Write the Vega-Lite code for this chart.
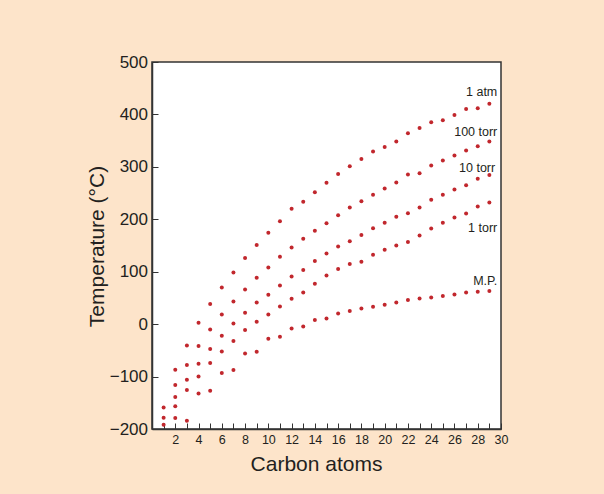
{
  "$schema": "https://vega.github.io/schema/vega-lite/v6.json",
  "width": 349,
  "height": 367,
  "autosize": {"type": "none"},
  "padding": {"left": 152, "top": 62, "right": 103, "bottom": 65},
  "background": "#FDE4CA",
  "config": {
    "font": "Liberation Sans",
    "view": {"fill": "white", "stroke": "#333333", "strokeWidth": 1.5},
    "axis": {
      "ticks": false,
      "grid": true,
      "gridColor": "#333333",
      "gridOpacity": 1,
      "gridWidth": 1,
      "domainColor": "#333333",
      "domainWidth": 1.5,
      "labelColor": "#231f20",
      "titleColor": "#231f20",
      "titleFontWeight": "normal",
      "labelFont": "Liberation Sans",
      "titleFont": "Liberation Sans"
    }
  },
  "datasets": {
    "pts": [
      {"c": 1, "t": -158.8, "s": "1 atm"}, {"c": 2, "t": -86.9, "s": "1 atm"}, {"c": 3, "t": -40.6, "s": "1 atm"}, {"c": 4, "t": 2.7, "s": "1 atm"}, {"c": 5, "t": 38.3, "s": "1 atm"}, {"c": 6, "t": 69.9, "s": "1 atm"}, {"c": 7, "t": 98.5, "s": "1 atm"}, {"c": 8, "t": 126.0, "s": "1 atm"}, {"c": 9, "t": 150.8, "s": "1 atm"}, {"c": 10, "t": 174.2, "s": "1 atm"}, {"c": 11, "t": 196.4, "s": "1 atm"}, {"c": 12, "t": 219.9, "s": "1 atm"}, {"c": 13, "t": 233.3, "s": "1 atm"}, {"c": 14, "t": 251.7, "s": "1 atm"}, {"c": 15, "t": 269.5, "s": "1 atm"}, {"c": 16, "t": 286.6, "s": "1 atm"}, {"c": 17, "t": 301.3, "s": "1 atm"}, {"c": 18, "t": 315.2, "s": "1 atm"}, {"c": 19, "t": 329.2, "s": "1 atm"}, {"c": 20, "t": 338.1, "s": "1 atm"}, {"c": 21, "t": 348.3, "s": "1 atm"}, {"c": 22, "t": 364.2, "s": "1 atm"}, {"c": 23, "t": 374.3, "s": "1 atm"}, {"c": 24, "t": 385.2, "s": "1 atm"}, {"c": 25, "t": 389.0, "s": "1 atm"}, {"c": 26, "t": 399.1, "s": "1 atm"}, {"c": 27, "t": 410.5, "s": "1 atm"}, {"c": 28, "t": 411.8, "s": "1 atm"}, {"c": 29, "t": 420.6, "s": "1 atm"},
      {"c": 1, "t": -178.4, "s": "100 torr"}, {"c": 2, "t": -116.1, "s": "100 torr"}, {"c": 3, "t": -78.0, "s": "100 torr"}, {"c": 4, "t": -41.7, "s": "100 torr"}, {"c": 5, "t": -10.1, "s": "100 torr"}, {"c": 6, "t": 18.5, "s": "100 torr"}, {"c": 7, "t": 43.3, "s": "100 torr"}, {"c": 8, "t": 66.1, "s": "100 torr"}, {"c": 9, "t": 88.4, "s": "100 torr"}, {"c": 10, "t": 108.1, "s": "100 torr"}, {"c": 11, "t": 128.5, "s": "100 torr"}, {"c": 12, "t": 146.0, "s": "100 torr"}, {"c": 13, "t": 162.8, "s": "100 torr"}, {"c": 14, "t": 178.0, "s": "100 torr"}, {"c": 15, "t": 192.6, "s": "100 torr"}, {"c": 16, "t": 207.9, "s": "100 torr"}, {"c": 17, "t": 222.5, "s": "100 torr"}, {"c": 18, "t": 234.6, "s": "100 torr"}, {"c": 19, "t": 246.6, "s": "100 torr"}, {"c": 20, "t": 258.6, "s": "100 torr"}, {"c": 21, "t": 270.1, "s": "100 torr"}, {"c": 22, "t": 285.4, "s": "100 torr"}, {"c": 23, "t": 288.0, "s": "100 torr"}, {"c": 24, "t": 302.5, "s": "100 torr"}, {"c": 25, "t": 312.0, "s": "100 torr"}, {"c": 26, "t": 321.5, "s": "100 torr"}, {"c": 27, "t": 331.1, "s": "100 torr"}, {"c": 28, "t": 339.4, "s": "100 torr"}, {"c": 29, "t": 348.3, "s": "100 torr"},
      {"c": 1, "t": -191.7, "s": "10 torr"}, {"c": 2, "t": -138.9, "s": "10 torr"}, {"c": 3, "t": -106.0, "s": "10 torr"}, {"c": 4, "t": -75.5, "s": "10 torr"}, {"c": 5, "t": -47.5, "s": "10 torr"}, {"c": 6, "t": -22.1, "s": "10 torr"}, {"c": 7, "t": 1.3, "s": "10 torr"}, {"c": 8, "t": 21.7, "s": "10 torr"}, {"c": 9, "t": 41.4, "s": "10 torr"}, {"c": 10, "t": 56.0, "s": "10 torr"}, {"c": 11, "t": 73.8, "s": "10 torr"}, {"c": 12, "t": 91.0, "s": "10 torr"}, {"c": 13, "t": 103.1, "s": "10 torr"}, {"c": 14, "t": 120.2, "s": "10 torr"}, {"c": 15, "t": 134.8, "s": "10 torr"}, {"c": 16, "t": 148.1, "s": "10 torr"}, {"c": 17, "t": 158.0, "s": "10 torr"}, {"c": 18, "t": 169.8, "s": "10 torr"}, {"c": 19, "t": 183.1, "s": "10 torr"}, {"c": 20, "t": 193.3, "s": "10 torr"}, {"c": 21, "t": 204.7, "s": "10 torr"}, {"c": 22, "t": 211.7, "s": "10 torr"}, {"c": 23, "t": 222.5, "s": "10 torr"}, {"c": 24, "t": 237.1, "s": "10 torr"}, {"c": 25, "t": 246.6, "s": "10 torr"}, {"c": 26, "t": 256.7, "s": "10 torr"}, {"c": 27, "t": 265.1, "s": "10 torr"}, {"c": 28, "t": 277.1, "s": "10 torr"}, {"c": 29, "t": 284.7, "s": "10 torr"},
      {"c": 2, "t": -156.8, "s": "1 torr"}, {"c": 3, "t": -125.6, "s": "1 torr"}, {"c": 4, "t": -99.7, "s": "1 torr"}, {"c": 5, "t": -74.1, "s": "1 torr"}, {"c": 6, "t": -52.0, "s": "1 torr"}, {"c": 7, "t": -32.2, "s": "1 torr"}, {"c": 8, "t": -11.2, "s": "1 torr"}, {"c": 9, "t": 4.6, "s": "1 torr"}, {"c": 10, "t": 18.5, "s": "1 torr"}, {"c": 11, "t": 33.8, "s": "1 torr"}, {"c": 12, "t": 48.4, "s": "1 torr"}, {"c": 13, "t": 60.5, "s": "1 torr"}, {"c": 14, "t": 77.0, "s": "1 torr"}, {"c": 15, "t": 92.8, "s": "1 torr"}, {"c": 16, "t": 105.0, "s": "1 torr"}, {"c": 17, "t": 114.5, "s": "1 torr"}, {"c": 18, "t": 118.9, "s": "1 torr"}, {"c": 19, "t": 132.3, "s": "1 torr"}, {"c": 20, "t": 141.8, "s": "1 torr"}, {"c": 21, "t": 150.0, "s": "1 torr"}, {"c": 22, "t": 156.5, "s": "1 torr"}, {"c": 23, "t": 169.1, "s": "1 torr"}, {"c": 24, "t": 182.4, "s": "1 torr"}, {"c": 25, "t": 193.3, "s": "1 torr"}, {"c": 26, "t": 203.4, "s": "1 torr"}, {"c": 27, "t": 211.0, "s": "1 torr"}, {"c": 28, "t": 224.3, "s": "1 torr"}, {"c": 29, "t": 232.0, "s": "1 torr"},
      {"c": 2, "t": -179.0, "s": "M.P."}, {"c": 3, "t": -184.1, "s": "M.P."}, {"c": 4, "t": -132.1, "s": "M.P."}, {"c": 5, "t": -127.0, "s": "M.P."}, {"c": 6, "t": -93.2, "s": "M.P."}, {"c": 7, "t": -87.5, "s": "M.P."}, {"c": 8, "t": -55.8, "s": "M.P."}, {"c": 9, "t": -52.6, "s": "M.P."}, {"c": 10, "t": -27.8, "s": "M.P."}, {"c": 11, "t": -24.0, "s": "M.P."}, {"c": 12, "t": -8.1, "s": "M.P."}, {"c": 13, "t": -4.4, "s": "M.P."}, {"c": 14, "t": 7.8, "s": "M.P."}, {"c": 15, "t": 10.9, "s": "M.P."}, {"c": 16, "t": 20.4, "s": "M.P."}, {"c": 17, "t": 24.9, "s": "M.P."}, {"c": 18, "t": 30.0, "s": "M.P."}, {"c": 19, "t": 33.2, "s": "M.P."}, {"c": 20, "t": 37.0, "s": "M.P."}, {"c": 21, "t": 41.4, "s": "M.P."}, {"c": 22, "t": 45.9, "s": "M.P."}, {"c": 23, "t": 49.0, "s": "M.P."}, {"c": 24, "t": 50.9, "s": "M.P."}, {"c": 25, "t": 53.6, "s": "M.P."}, {"c": 26, "t": 56.6, "s": "M.P."}, {"c": 27, "t": 60.4, "s": "M.P."}, {"c": 28, "t": 61.7, "s": "M.P."}, {"c": 29, "t": 63.0, "s": "M.P."}
    ],
    "labels": [
      {"c": 29.68, "t": 434.8, "label": "1 atm"},
      {"c": 29.68, "t": 358.6, "label": "100 torr"},
      {"c": 29.5, "t": 291.0, "label": "10 torr"},
      {"c": 29.68, "t": 176.7, "label": "1 torr"},
      {"c": 29.68, "t": 75.0, "label": "M.P."}
    ]
  },
  "layer": [
    {
      "data": {"name": "pts"},
      "mark": {"type": "point", "filled": true, "size": 16, "color": "#C1272D", "opacity": 1},
      "encoding": {
        "x": {
          "field": "c", "type": "quantitative",
          "scale": {"domain": [0, 30], "nice": false, "zero": false},
          "axis": {
            "orient": "bottom",
            "values": [2,4,6,8,10,12,14,16,18,20,22,24,26,28,30],
            "format": "d",
            "grid": true,
            "gridDash": [0, 361, 6, 2000],
            "labelFlush": false,
            "labelOverlap": false,
            "labelPadding": 4,
            "labelFontSize": 12.5,
            "title": "Carbon atoms",
            "titleFontSize": 21,
            "titleX": 164,
            "titleY": 41,
            "titleBaseline": "alphabetic"
          }
        },
        "y": {
          "field": "t", "type": "quantitative",
          "scale": {"domain": [-200, 500], "nice": false, "zero": false},
          "axis": {
            "values": [-200,-100,0,100,200,300,400,500],
            "grid": true,
            "gridDash": [6, 2000],
            "labelFlush": false,
            "labelOverlap": false,
            "labelPadding": 4.5,
            "labelFontSize": 17,
            "title": "Temperature (°C)",
            "titleFontSize": 21,
            "titleX": -49,
            "titleY": 184,
            "titleAlign": "center",
            "titleAngle": -90,
            "titleBaseline": "alphabetic"
          }
        }
      }
    },
    {
      "data": {"name": "labels"},
      "mark": {"type": "text", "align": "right", "baseline": "alphabetic", "fontSize": 12.5, "color": "#231f20", "font": "Liberation Sans"},
      "encoding": {
        "x": {
          "field": "c", "type": "quantitative",
          "axis": {
            "orient": "bottom",
            "values": [1,3,5,7,9,11,13,15,17,19,21,23,25,27,29],
            "labels": false,
            "domain": false,
            "title": null,
            "grid": true,
            "gridDash": [0, 361, 6, 2000]
          }
        },
        "y": {"field": "t", "type": "quantitative"},
        "text": {"field": "label"}
      }
    }
  ],
  "resolve": {"axis": {"x": "independent"}}
}
